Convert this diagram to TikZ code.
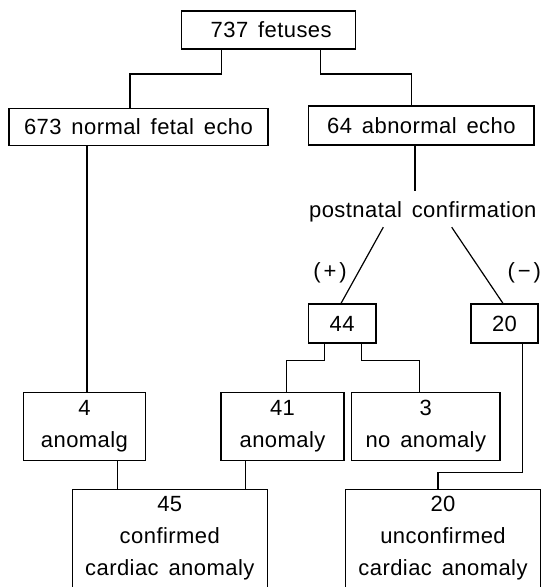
\documentclass[tikz,border=0pt]{standalone}
\usepackage{fontspec}
\setmainfont{Liberation Sans}[LetterSpace=2,WordSpace=1.5]
\begin{document}
\begin{tikzpicture}[x=1pt,y=-1pt,
  txt/.style={font=\fontsize{22}{32}\selectfont, inner sep=0pt, align=center},
  box/.style={txt, draw, line width=1.2pt, minimum width=#1},
  conn/.style={line width=1.2pt}]
\useasboundingbox (0,0) rectangle (542,587);
% boxes
\node[box=174pt, minimum height=38pt] (top) at (268.7,30) {\hspace{5pt}737 fetuses};
\node[box=259pt, minimum height=37pt] (normal) at (138.5,127) {673 normal fetal echo};
\node[box=225.3pt, minimum height=39pt] (abn) at (421.4,125.5) {64 abnormal echo};
\node[txt, anchor=base, text height=26.3pt, text depth=9.7pt] (post) at (422.8,217.3) {postnatal confirmation};
\node[box=67.7pt, minimum height=39pt] (n44) at (342.2,323.5) {44};
\node[box=67pt, minimum height=39pt] (n20) at (504.5,323.5) {20};
\node[box=122.5pt, minimum height=68pt] (n4) at (84.5,426.5) {4\\anomalg};
\node[box=123pt, minimum height=68pt] (n41) at (282.5,426.5) {41\\anomaly};
\node[box=148.5pt, minimum height=68pt] (n3) at (425.8,426.5) {3\\no anomaly};
\node[txt, minimum width=195pt, minimum height=98pt] (n45) at (169.8,538.5) {45\\confirmed\\cardiac anomaly};
\node[txt, minimum width=194pt, minimum height=98pt] (n20u) at (443,538.5) {20\\unconfirmed\\cardiac anomaly};
\draw[conn] (n45.south west) -- (n45.north west) -- (n45.north east) -- (n45.south east);
\draw[conn] (n20u.south west) -- (n20u.north west) -- (n20u.north east) -- (n20u.south east);
% labels
\node[txt] (plus) at (330,272.5) {(\hspace{3pt}+\hspace{3pt})};
\node[txt] (minus) at (524.3,272.5) {(\hspace{3pt}−\hspace{3pt})};
% helper coordinates
\coordinate (t1) at (221.7,0);
\coordinate (t2) at (320.7,0);
\coordinate (j1) at (130,74);
\coordinate (j2) at (411.3,74);
\coordinate (l1) at (87,0);
\coordinate (l2) at (415,0);
\coordinate (d1) at (383.3,0);
\coordinate (d2) at (451.7,0);
\coordinate (e1) at (341,0);
\coordinate (e2) at (503,0);
\coordinate (a1) at (324.3,0);
\coordinate (a2) at (361.7,0);
\coordinate (j3) at (286.2,360.7);
\coordinate (j4) at (419.3,360.7);
\coordinate (a3) at (522.3,0);
\coordinate (j5) at (438,472.6);
\coordinate (b1) at (117.7,0);
\coordinate (b2) at (245.7,0);
% connectors
\draw[conn] (top.south -| t1) |- (j1) -- (normal.north -| j1);
\draw[conn] (top.south -| t2) |- (j2) -- (abn.north -| j2);
\draw[conn] (normal.south -| l1) -- (n4.north -| l1);
\draw[conn] (abn.south -| l2) -- (post.north -| l2);
\draw[conn] (post.south -| d1) -- (n44.north -| e1);
\draw[conn] (post.south -| d2) -- (n20.north -| e2);
\draw[conn] (n44.south -| a1) |- (j3) -- (n41.north -| j3);
\draw[conn] (n44.south -| a2) |- (j4) -- (n3.north -| j4);
\draw[conn] (n20.south -| a3) |- (j5) -- (n20u.north -| j5);
\draw[conn] (n4.south -| b1) -- (n45.north -| b1);
\draw[conn] (n41.south -| b2) -- (n45.north -| b2);
\end{tikzpicture}
\end{document}
